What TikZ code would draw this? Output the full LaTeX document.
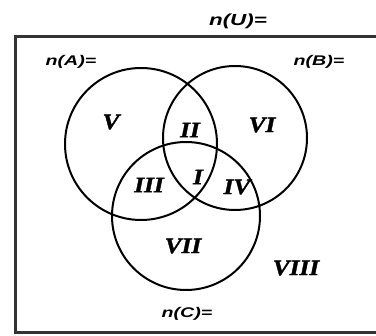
\documentclass[tikz,border=0pt]{standalone}
\usepackage{fontspec}
\setmainfont{Liberation Serif}
\newfontfamily\numfont[FakeStretch=1.15,FakeBold=1.5]{Liberation Serif}
\newfontfamily\lblfont[FakeStretch=1.4]{Liberation Sans}
\usetikzlibrary{positioning}

\begin{document}
\begin{tikzpicture}[x=1pt,y=-1pt,
  set/.style={draw,circle,line width=2pt,inner sep=0pt},
  rgn/.style={font=\fontsize{22}{22}\numfont\bfseries\itshape,inner sep=0pt},
  cnt/.style={font=\fontsize{14}{14}\lblfont\bfseries\itshape,inner sep=0pt}]
\clip (0,0) rectangle (376,336);
\node[draw,line width=2.6pt,draw=black!80,minimum width=380pt,minimum height=296pt,anchor=north west,inner sep=0pt] (U) at (14,35) {};
\node[set,minimum size=152pt] (A) at (141,144) {};
\node[set,minimum size=144pt] (B) at (235,138) {};
\node[set,minimum size=148pt] (C) at (186,216) {};
% set sizes
\node[cnt,font=\fontsize{16}{16}\lblfont\bfseries\itshape] (nU) at (238,21) {n(U)=};
\node[cnt] (nA) at (71,62) {n(A)=};
\node[cnt] (nB) at (319,62) {n(B)=};
\node[cnt] (nC) at (187,314) {n(C)=};
% regions
\node[rgn] (r1) at (198,177) {I};
\node[rgn] (r2) at (190,130) {II};
\node[rgn] (r3) at (149,185) {III};
\node[rgn] (r4) at (237,187) {IV};
\node[rgn] (r5) at (111,122) {V};
\node[rgn] (r6) at (262,125) {VI};
\node[rgn] (r7) at (183,246) {VII};
\node[rgn] (r8) at (296,268) {VIII};
\end{tikzpicture}
\end{document}
